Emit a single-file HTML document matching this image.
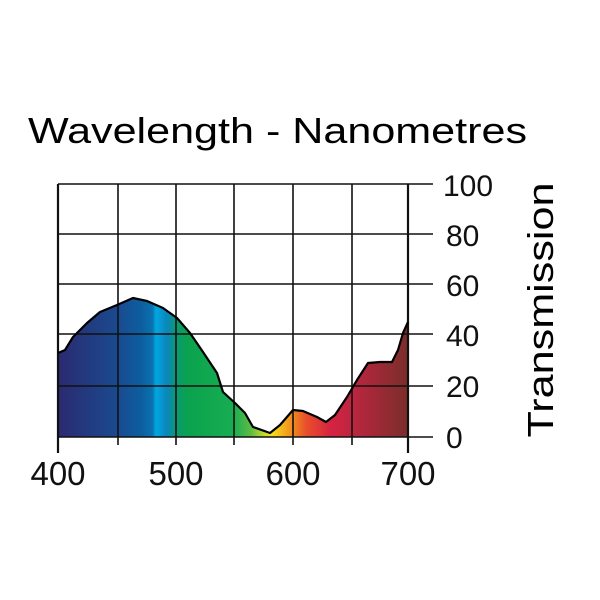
<!DOCTYPE html>
<html><head><style>body{margin:0;background:#fff}svg{display:block}</style></head><body>
<svg width="600" height="600" viewBox="0 0 600 600" xmlns="http://www.w3.org/2000/svg" font-family="Liberation Sans, sans-serif">
<defs>
<linearGradient id="g" x1="58" x2="408" y1="0" y2="0" gradientUnits="userSpaceOnUse">
<stop offset="0" stop-color="#2b2a70"/>
<stop offset="0.17" stop-color="#1a4a8f"/>
<stop offset="0.24" stop-color="#0c5fa0"/>
<stop offset="0.27" stop-color="#0a72b0"/>
<stop offset="0.28" stop-color="#00a8e2"/>
<stop offset="0.31" stop-color="#0b86bd"/>
<stop offset="0.34" stop-color="#0b9a70"/>
<stop offset="0.37" stop-color="#0aa24e"/>
<stop offset="0.50" stop-color="#18ad52"/>
<stop offset="0.55" stop-color="#5cbb45"/>
<stop offset="0.59" stop-color="#c8dc2a"/>
<stop offset="0.61" stop-color="#f4e11a"/>
<stop offset="0.66" stop-color="#f3991f"/>
<stop offset="0.71" stop-color="#e84e2a"/>
<stop offset="0.78" stop-color="#d62242"/>
<stop offset="0.85" stop-color="#b8263f"/>
<stop offset="1" stop-color="#7a2e2a"/>
</linearGradient>
</defs>
<text x="28" y="143" font-size="36" textLength="499" lengthAdjust="spacingAndGlyphs">Wavelength - Nanometres</text>
<path d="M58,437 L58,353 L65,350 L73,337 L87,323 L100,312 L117,305 L133,298 L147,301 L163,308 L177,318 L190,333 L203,352 L217,373 L223,392 L235,403 L245,413 L253,427 L270,433 L280,425 L293,410 L303,411 L317,417 L326,422 L335,415 L347,397 L357,380 L368,363 L380,362 L392,362 L398,350 L403,333 L408,322 L408,437 Z" fill="url(#g)"/>
<g stroke="#111" stroke-width="1.6">
<line x1="58" y1="184" x2="433" y2="184"/>
<line x1="58" y1="234" x2="433" y2="234"/>
<line x1="58" y1="284" x2="433" y2="284"/>
<line x1="58" y1="334" x2="433" y2="334"/>
<line x1="58" y1="386" x2="433" y2="386"/>
<line x1="58" y1="437" x2="433" y2="437"/>
<line x1="118" y1="184" x2="118" y2="445"/>
<line x1="176" y1="184" x2="176" y2="445"/>
<line x1="234" y1="184" x2="234" y2="445"/>
<line x1="293" y1="184" x2="293" y2="445"/>
<line x1="352" y1="184" x2="352" y2="445"/>
</g>
<g stroke="#111" stroke-width="2.2">
<line x1="58" y1="184" x2="58" y2="453"/>
<line x1="408" y1="184" x2="408" y2="453"/>
</g>
<path d="M58,353 L65,350 L73,337 L87,323 L100,312 L117,305 L133,298 L147,301 L163,308 L177,318 L190,333 L203,352 L217,373 L223,392 L235,403 L245,413 L253,427 L270,433 L280,425 L293,410 L303,411 L317,417 L326,422 L335,415 L347,397 L357,380 L368,363 L380,362 L392,362 L398,350 L403,333 L408,322" fill="none" stroke="#000" stroke-width="2.2" stroke-linejoin="round"/>
<g font-size="30" fill="#111">
<text x="443" y="196">100</text>
<text x="446" y="246">80</text>
<text x="446" y="296">60</text>
<text x="446" y="346">40</text>
<text x="446" y="397">20</text>
<text x="446" y="448">0</text>
</g>
<g font-size="33" fill="#111" text-anchor="middle">
<text x="58" y="485">400</text>
<text x="176" y="485">500</text>
<text x="293" y="485">600</text>
<text x="408" y="485">700</text>
</g>
<text transform="translate(553,310) rotate(-90)" font-size="36" text-anchor="middle" textLength="255" lengthAdjust="spacingAndGlyphs">Transmission</text>
</svg>
</body></html>
